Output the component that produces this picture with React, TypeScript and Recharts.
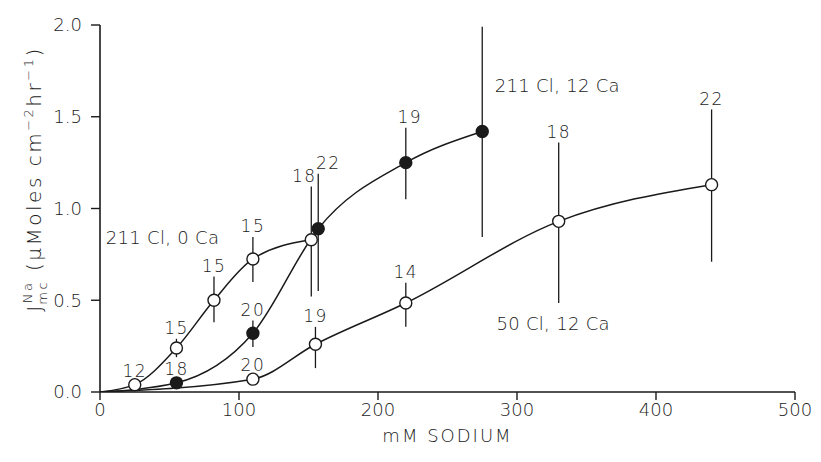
import React from 'react';
import {
    ComposedChart,
    Line,
    Scatter,
    XAxis,
    YAxis,
    ErrorBar,
    ReferenceDot,
} from 'recharts';

// sodium concentration (mM) and flux J (uMoles cm-2 hr-1) for each condition
const sodiumNoCa = [25, 55, 82, 110, 152];
const fluxNoCa = [0.04, 0.24, 0.5, 0.725, 0.83];
const topNoCa = [null, 0.29, 0.63, 0.845, 1.12];
const bottomNoCa = [null, 0.19, 0.38, 0.6, 0.52];
const countNoCa = [12, 15, 15, 15, 18];

const sodiumHighCl = [55, 110, 157, 220, 275];
const fluxHighCl = [0.05, 0.32, 0.89, 1.25, 1.42];
const topHighCl = [null, 0.39, 1.19, 1.44, 1.99];
const bottomHighCl = [null, 0.245, 0.55, 1.05, 0.845];
const countHighCl = [18, 20, 22, 19, 24];

const sodiumLowCl = [110, 155, 220, 330, 440];
const fluxLowCl = [0.07, 0.26, 0.485, 0.93, 1.13];
const topLowCl = [null, 0.355, 0.595, 1.36, 1.54];
const bottomLowCl = [null, 0.13, 0.355, 0.485, 0.71];
const countLowCl = [20, 19, 14, 18, 22];

const xTicks = [0, 100, 200, 300, 400, 500];
const yTicks = [0, 0.5, 1.0, 1.5, 2.0];

const notes = [
    { x: 45, y: 0.84, text: '211 Cl, 0 Ca' },
    { x: 329, y: 1.67, text: '211 Cl, 12 Ca' },
    { x: 326, y: 0.375, text: '50 Cl, 12 Ca' },
];

// small sideways nudges for crowded count labels
const shiftNoCa = [0, 0, 0, 0, -7];
const shiftHighCl = [0, 0, 10, 4, 0];
const shiftLowCl = [0, 0, 0, 0, 0];

const INK = '#1a1a1a';
const FONT = '"DejaVu Sans", sans-serif';

function points(xs: number[], ys: number[], tops: (number | null)[], bottoms: (number | null)[]) {
    return xs.map((x, i) => ({
        x,
        y: ys[i],
        err: [tops[i] == null ? 0 : ys[i] - (bottoms[i] as number), tops[i] == null ? 0 : (tops[i] as number) - ys[i]],
    }));
}

function curve(xs: number[], ys: number[]) {
    return [{ x: 0, y: 0 }, ...xs.map((x, i) => ({ x, y: ys[i] }))];
}

function countLabels(xs: number[], ys: number[], tops: (number | null)[], counts: number[], shifts: number[]) {
    return xs.map((x, i) => ({
        x,
        y: tops[i] == null ? ys[i] : (tops[i] as number),
        n: counts[i],
        bar: tops[i] != null,
        dx: shifts[i],
    }));
}

const OpenDot = (props: any) => (
    <circle cx={props.cx} cy={props.cy} r={6} fill="#fff" stroke={INK} strokeWidth={1.4} />
);

const FilledDot = (props: any) => (
    <circle cx={props.cx} cy={props.cy} r={6} fill={INK} stroke={INK} strokeWidth={1.4} />
);

const CountText = (props: any) => {
    const { cx, cy, payload } = props;
    const lift = payload.bar ? 11 : 14;
    return (
        <text
            x={cx + payload.dx}
            y={cy - lift}
            dy="0.36em"
            textAnchor="middle"
            fontSize={17}
            fontFamily={FONT}
            fontWeight={300}
            fill={INK}
            letterSpacing={1.5}
        >
            {payload.n}
        </text>
    );
};

const NoteText = (props: any) => {
    const { viewBox, value } = props;
    const cx = viewBox.x + viewBox.width / 2;
    const cy = viewBox.y + viewBox.height / 2;
    return (
        <text
            x={cx}
            y={cy}
            dy="0.36em"
            textAnchor="middle"
            fontSize={18}
            fontFamily={FONT}
            fontWeight={300}
            fill={INK}
            letterSpacing={0.3}
        >
            {value}
        </text>
    );
};

export default function App() {
    const tickStyle = { fontSize: 18, fill: INK, fontFamily: FONT, fontWeight: 300 };

    const series = [
        {
            key: 'noCa',
            curve: curve(sodiumNoCa, fluxNoCa),
            pts: points(sodiumNoCa, fluxNoCa, topNoCa, bottomNoCa),
            labels: countLabels(sodiumNoCa, fluxNoCa, topNoCa, countNoCa, shiftNoCa),
            dot: OpenDot,
        },
        {
            key: 'highCl',
            curve: curve(sodiumHighCl, fluxHighCl),
            pts: points(sodiumHighCl, fluxHighCl, topHighCl, bottomHighCl),
            labels: countLabels(sodiumHighCl, fluxHighCl, topHighCl, countHighCl, shiftHighCl),
            dot: FilledDot,
        },
        {
            key: 'lowCl',
            curve: curve(sodiumLowCl, fluxLowCl),
            pts: points(sodiumLowCl, fluxLowCl, topLowCl, bottomLowCl),
            labels: countLabels(sodiumLowCl, fluxLowCl, topLowCl, countLowCl, shiftLowCl),
            dot: OpenDot,
        },
    ];

    return (
        <div style={{ position: 'absolute', left: 0, top: 0, width: 821, height: 462, background: '#fff' }}>
            <ComposedChart width={821} height={462} margin={{ top: 25, right: 26, bottom: 8, left: 0 }}>
                <XAxis
                    type="number"
                    dataKey="x"
                    domain={[0, 500]}
                    ticks={xTicks}
                    allowDataOverflow
                    height={62}
                    tick={tickStyle}
                    tickSize={8}
                    tickMargin={3}
                    axisLine={{ stroke: INK, strokeWidth: 1.6 }}
                    tickLine={{ stroke: INK, strokeWidth: 1.4 }}
                    label={{
                        value: 'mM SODIUM',
                        position: 'insideBottom',
                        offset: 12,
                        style: { ...tickStyle, letterSpacing: 2 },
                    }}
                />
                <YAxis
                    type="number"
                    dataKey="y"
                    domain={[0, 2]}
                    ticks={yTicks}
                    allowDataOverflow
                    width={100}
                    tick={tickStyle}
                    tickSize={9}
                    tickMargin={9}
                    tickFormatter={(v) => Number(v).toFixed(1)}
                    axisLine={{ stroke: INK, strokeWidth: 1.6 }}
                    tickLine={{ stroke: INK, strokeWidth: 1.4 }}
                />
                {series.map((s) => (
                    <Line
                        key={s.key + '-curve'}
                        data={s.curve}
                        dataKey="y"
                        type="monotone"
                        stroke={INK}
                        strokeWidth={1.5}
                        dot={false}
                        activeDot={false}
                        isAnimationActive={false}
                    />
                ))}
                {series.map((s) => (
                    <Scatter
                        key={s.key + '-pts'}
                        data={s.pts}
                        dataKey="y"
                        shape={s.dot}
                        isAnimationActive={false}
                    >
                        <ErrorBar dataKey="err" direction="y" width={0} stroke={INK} strokeWidth={1.3} />
                    </Scatter>
                ))}
                {series.map((s) => (
                    <Scatter
                        key={s.key + '-n'}
                        data={s.labels}
                        dataKey="y"
                        shape={CountText}
                        isAnimationActive={false}
                    />
                ))}
                {notes.map((n) => (
                    <ReferenceDot
                        key={n.text}
                        x={n.x}
                        y={n.y}
                        r={0}
                        fill="none"
                        stroke="none"
                        label={<NoteText value={n.text} />}
                    />
                ))}
            </ComposedChart>
            <svg
                width={821}
                height={462}
                style={{ position: 'absolute', left: 0, top: 0, pointerEvents: 'none' }}
            >
                <g transform="translate(41,179) rotate(-90)">
                    <text
                        x={0}
                        y={0}
                        textAnchor="middle"
                        fontSize={20}
                        fontFamily={FONT}
                        fontWeight={300}
                        fill={INK}
                        letterSpacing={2.5}
                    >
                        J
                        <tspan fontSize={13} dy={-9}>Na</tspan>
                        <tspan fontSize={13} dx={-24} dy={15}>mc</tspan>
                        <tspan dy={-6}> (µMoles cm</tspan>
                        <tspan fontSize={13} dy={-8}>−2</tspan>
                        <tspan dy={8}>hr</tspan>
                        <tspan fontSize={13} dy={-8}>−1</tspan>
                        <tspan dy={8}>)</tspan>
                    </text>
                </g>
            </svg>
        </div>
    );
}
